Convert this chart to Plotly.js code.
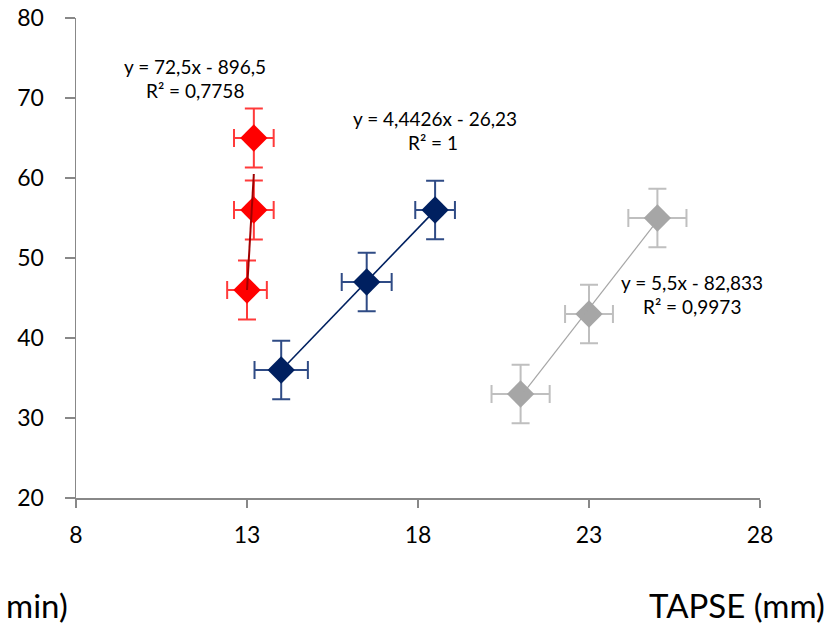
<!DOCTYPE html>
<html>
<head>
<meta charset="utf-8">
<script src="https://cdn.plot.ly/plotly-3.0.1.min.js"></script>
<style>html,body{margin:0;padding:0;background:#fff;}#chart{width:833px;height:625px;}</style>
</head>
<body>
<div id="chart"></div>
<script>
// Data
const redX = [13.0, 13.2, 13.2];
const redY = [46, 56, 65];
const redXErr = [0.58, 0.58, 0.58];
const redYErr = [3.7, 3.7, 3.7];

const blueX = [14.0, 16.5, 18.5];
const blueY = [36, 47, 56];
const blueXErr = [0.78, 0.73, 0.58];
const blueYErr = [3.65, 3.65, 3.65];

const grayX = [21, 23, 25];
const grayY = [33, 43, 55];
const grayXErr = [0.85, 0.70, 0.85];
const grayYErr = [3.65, 3.65, 3.65];

const xTicks = [8, 13, 18, 23, 28];
const yTicks = [20, 30, 40, 50, 60, 70, 80];

const redLabel = ["y = 72,5x - 896,5", "R² = 0,7758"];
const blueLabel = ["y = 4,4426x - 26,23", "R² = 1"];
const grayLabel = ["y = 5,5x - 82,833", "R² = 0,9973"];

function fit(xs, ys) {
  const n = xs.length;
  const mx = xs.reduce((a, b) => a + b, 0) / n;
  const my = ys.reduce((a, b) => a + b, 0) / n;
  let sxy = 0, sxx = 0;
  for (let i = 0; i < n; i++) { sxy += (xs[i] - mx) * (ys[i] - my); sxx += (xs[i] - mx) ** 2; }
  const m = sxy / sxx, b = my - m * mx;
  const x0 = Math.min(...xs), x1 = Math.max(...xs);
  return { x: [x0, x1], y: [m * x0 + b, m * x1 + b] };
}

function pts(xs, ys, xe, ye, fill, ecol) {
  return {
    type: 'scatter', mode: 'markers', x: xs, y: ys,
    marker: { symbol: 'diamond', size: 21, color: fill, line: { width: 0 } },
    error_x: { type: 'data', array: xe, visible: true, color: ecol, thickness: 2, width: 9 },
    error_y: { type: 'data', array: ye, visible: true, color: ecol, thickness: 2, width: 9 },
    hoverinfo: 'skip', showlegend: false
  };
}
function trend(xs, ys, col, w) {
  const f = fit(xs, ys);
  return { type: 'scatter', mode: 'lines', x: f.x, y: f.y, line: { color: col, width: w }, hoverinfo: 'skip', showlegend: false };
}

const data = [
  pts(redX, redY, redXErr, redYErr, '#ff0000', '#ff3a3a'),
  pts(blueX, blueY, blueXErr, blueYErr, '#002060', '#2f4b85'),
  pts(grayX, grayY, grayXErr, grayYErr, '#a6a6a6', '#bfbfbf'),
  trend(redX, redY, '#a00000', 2),
  trend(blueX, blueY, '#002060', 1.6),
  trend(grayX, grayY, '#a6a6a6', 1.2)
];

const lblFont = { family: 'Lato, "Open Sans", sans-serif', size: 19, color: '#000' };
function lbl(t, x, y) {
  return { text: t, x: x, y: y, xref: 'x', yref: 'y', showarrow: false, xanchor: 'center', yanchor: 'middle', font: lblFont };
}

const layout = {
  width: 833, height: 625,
  margin: { l: 76, r: 73, t: 18, b: 127 },
  paper_bgcolor: '#fff', plot_bgcolor: '#fff',
  font: { family: 'Lato, "Open Sans", sans-serif', color: '#000' },
  xaxis: {
    range: [8, 28], tickvals: xTicks, ticktext: xTicks.map(String),
    showline: true, linecolor: '#888888', linewidth: 1.5,
    ticks: 'outside', ticklen: 8, tickwidth: 1.5, tickcolor: '#888888',
    showgrid: false, zeroline: false,
    tickfont: { size: 23, family: 'Lato, sans-serif', color: '#000' }, ticklabelstandoff: 8
  },
  yaxis: {
    range: [20, 80], tickvals: yTicks, ticktext: yTicks.map(String),
    showline: true, linecolor: '#888888', linewidth: 1.5,
    ticks: 'outside', ticklen: 10, tickwidth: 1.5, tickcolor: '#888888',
    showgrid: false, zeroline: false,
    tickfont: { size: 23, family: 'Lato, sans-serif', color: '#000' }, ticklabelstandoff: 16
  },
  annotations: [
    lbl(redLabel[0], 11.48, 73.9),
    lbl(redLabel[1], 11.48, 70.9),
    lbl(blueLabel[0], 18.5, 67.5),
    lbl(blueLabel[1], 18.45, 64.5),
    lbl(grayLabel[0], 26.0, 46.9),
    lbl(grayLabel[1], 26.0, 43.9),
    { text: 'TAPSE (mm)', xref: 'paper', yref: 'paper', x: 1 + 67 / 684, y: -107 / 480, xanchor: 'right', yanchor: 'middle', showarrow: false,
      font: { family: 'Lato, sans-serif', size: 33, color: '#000' } },
    { text: 'min)', xref: 'paper', yref: 'paper', x: -6 / 684, y: -107 / 480, xanchor: 'right', yanchor: 'middle', showarrow: false,
      font: { family: 'Lato, sans-serif', size: 33, color: '#000' } }
  ]
};

Plotly.newPlot('chart', data, layout, { staticPlot: true, displayModeBar: false });
</script>
</body>
</html>
